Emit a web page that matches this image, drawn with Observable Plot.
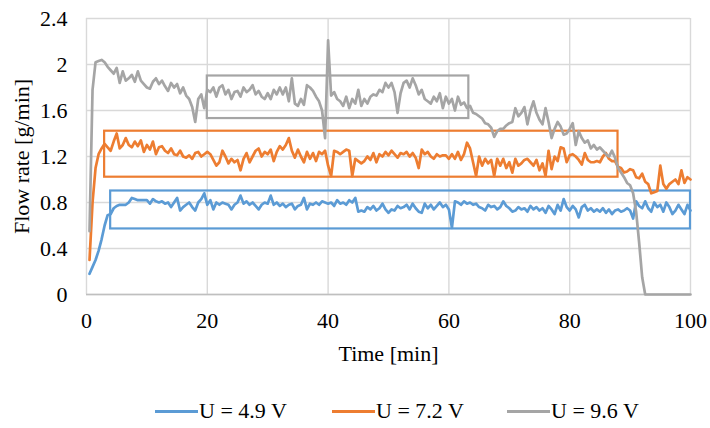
<!DOCTYPE html>
<html>
<head>
<meta charset="utf-8">
<script src="https://cdn.jsdelivr.net/npm/d3@7"></script>
<script src="https://cdn.jsdelivr.net/npm/@observablehq/plot@0.6"></script>
<style>
  html, body { margin: 0; padding: 0; background: #fff; }
  #chart { position: relative; width: 710px; height: 428px; }
  #chart svg text { font-family: "Liberation Serif", "Times New Roman", serif; }
  .item { position: absolute; top: 399px; height: 24px; display: flex; align-items: center;
          font-family: "Liberation Serif", "Times New Roman", serif; font-size: 22px; color: #000; white-space: nowrap; }
  .swatch { width: 43px; height: 3px; margin-right: 1px; }
</style>
</head>
<body>
<div id="chart"></div>
<script>
// ---- Data (sampled every 0.5 min, from 0.5 to 100 min) ----
const timeStep = 0.5;

const seriesNames = ["U = 4.9 V", "U = 7.2 V", "U = 9.6 V"];
const seriesColors = ["#5b9bd5", "#ed7d31", "#a5a5a5"];

const flowU49 = [
  0.18,0.24,0.30,0.38,0.48,0.60,0.69,0.70,0.75,0.77,
  0.78,0.78,0.78,0.80,0.84,0.83,0.82,0.82,0.82,0.82,
  0.79,0.83,0.81,0.80,0.81,0.79,0.80,0.76,0.80,0.84,
  0.73,0.76,0.78,0.80,0.76,0.73,0.80,0.83,0.88,0.78,
  0.82,0.74,0.80,0.78,0.80,0.79,0.78,0.74,0.78,0.80,
  0.86,0.79,0.81,0.78,0.80,0.77,0.74,0.78,0.80,0.79,
  0.86,0.78,0.80,0.77,0.79,0.76,0.78,0.79,0.74,0.77,
  0.78,0.84,0.74,0.79,0.78,0.80,0.78,0.81,0.80,0.79,
  0.80,0.77,0.82,0.79,0.80,0.78,0.82,0.80,0.84,0.72,
  0.73,0.72,0.76,0.74,0.77,0.73,0.75,0.79,0.74,0.71,
  0.74,0.73,0.77,0.75,0.76,0.78,0.74,0.79,0.75,0.72,
  0.71,0.79,0.75,0.78,0.74,0.77,0.80,0.76,0.78,0.74,
  0.58,0.81,0.80,0.78,0.81,0.79,0.80,0.78,0.79,0.76,
  0.75,0.73,0.78,0.76,0.77,0.74,0.76,0.81,0.77,0.75,
  0.72,0.73,0.76,0.74,0.75,0.72,0.77,0.74,0.76,0.73,
  0.75,0.71,0.77,0.74,0.70,0.78,0.73,0.83,0.76,0.73,
  0.77,0.74,0.67,0.76,0.78,0.73,0.75,0.72,0.74,0.72,
  0.75,0.71,0.74,0.70,0.73,0.74,0.72,0.73,0.75,0.73,
  0.66,0.81,0.77,0.75,0.81,0.75,0.72,0.80,0.76,0.78,
  0.72,0.80,0.76,0.70,0.73,0.78,0.74,0.70,0.78,0.73
];

const flowU72 = [
  0.30,0.80,1.10,1.22,1.27,1.31,1.28,1.25,1.33,1.40,
  1.27,1.30,1.36,1.30,1.28,1.33,1.29,1.34,1.24,1.30,
  1.26,1.33,1.22,1.28,1.29,1.25,1.23,1.27,1.22,1.21,
  1.25,1.20,1.19,1.21,1.18,1.23,1.24,1.20,1.22,1.24,
  1.22,1.17,1.12,1.15,1.25,1.20,1.14,1.18,1.15,1.17,
  1.08,1.18,1.23,1.15,1.20,1.25,1.27,1.20,1.24,1.22,
  1.26,1.16,1.24,1.29,1.26,1.30,1.36,1.25,1.19,1.26,
  1.20,1.15,1.24,1.18,1.23,1.16,1.24,1.22,1.25,1.12,
  1.03,1.25,1.24,1.22,1.24,1.26,1.25,1.03,1.18,1.16,
  1.14,1.16,1.20,1.17,1.23,1.15,1.22,1.20,1.24,1.21,
  1.25,1.22,1.19,1.23,1.22,1.24,1.20,1.23,1.19,1.10,
  1.26,1.22,1.24,1.20,1.18,1.22,1.20,1.21,1.21,1.18,
  1.22,1.18,1.24,1.17,1.22,1.32,1.27,1.15,1.03,1.20,
  1.12,1.18,1.14,1.17,1.03,1.18,1.12,1.18,1.10,1.15,
  1.06,1.18,1.12,1.14,1.17,1.18,1.15,1.12,1.17,1.08,
  1.14,1.03,1.25,1.09,1.20,1.16,1.28,1.27,1.15,1.21,
  1.22,1.20,1.17,1.13,1.23,1.17,1.15,1.15,1.16,1.15,
  1.20,1.23,1.18,1.16,1.16,1.11,1.10,1.06,1.07,1.09,
  1.08,1.02,1.01,1.05,0.98,0.96,0.88,0.89,0.90,1.12,
  0.96,0.92,0.96,0.98,1.00,0.96,1.08,0.97,1.02,1.00
];

const flowU96 = [
  0.55,1.78,2.02,2.03,2.04,2.02,1.98,1.95,1.92,1.97,
  1.84,1.94,1.86,1.88,1.91,1.85,1.94,1.86,1.83,1.80,
  1.79,1.85,1.88,1.83,1.86,1.81,1.77,1.84,1.80,1.83,
  1.75,1.80,1.73,1.70,1.63,1.50,1.70,1.74,1.62,1.78,
  1.76,1.80,1.72,1.80,1.82,1.74,1.78,1.70,1.76,1.77,
  1.72,1.80,1.76,1.78,1.82,1.74,1.77,1.72,1.70,1.75,
  1.70,1.78,1.74,1.80,1.74,1.80,1.68,1.88,1.66,1.64,
  1.70,1.65,1.82,1.80,1.77,1.72,1.68,1.60,1.36,2.21,
  1.73,1.76,1.70,1.68,1.64,1.72,1.62,1.70,1.66,1.78,
  1.64,1.70,1.66,1.72,1.74,1.73,1.78,1.76,1.84,1.80,
  1.84,1.76,1.58,1.75,1.84,1.86,1.80,1.88,1.82,1.74,
  1.78,1.70,1.68,1.66,1.72,1.68,1.75,1.62,1.72,1.66,
  1.70,1.60,1.72,1.65,1.67,1.62,1.64,1.58,1.57,1.55,
  1.53,1.49,1.48,1.45,1.37,1.42,1.44,1.44,1.47,1.49,
  1.50,1.62,1.55,1.58,1.63,1.48,1.60,1.68,1.58,1.52,
  1.48,1.62,1.50,1.36,1.44,1.50,1.46,1.39,1.40,1.44,
  1.49,1.30,1.42,1.36,1.32,1.34,1.27,1.30,1.26,1.28,
  1.25,1.22,1.20,1.25,1.19,1.10,1.06,1.02,0.97,0.95,
  0.88,0.72,0.45,0.15,0,0,0,0,0,0,
  0,0,0,0,0,0,0,0,0,0
];

// Highlight boxes (data coordinates)
const boxSeries = [0, 1, 2];
const boxX1 = [4, 3, 20];
const boxX2 = [100, 88, 63.3];
const boxY1 = [0.57, 1.02, 1.53];
const boxY2 = [0.90, 1.42, 1.90];

const xTicks = [0, 20, 40, 60, 80, 100];
const yTicks = [0, 0.4, 0.8, 1.2, 1.6, 2, 2.4];
const xTitle = "Time [min]";
const yTitle = "Flow rate [g/min]";

// ---- Build tables ----
const allSeries = [flowU49, flowU72, flowU96];
const rows = [];
allSeries.forEach((vals, s) => {
  vals.forEach((v, i) => rows.push({series: seriesNames[s], t: (i + 1) * timeStep, v}));
});
const boxes = boxSeries.map((s, i) => ({series: seriesNames[s], x1: boxX1[i], x2: boxX2[i], y1: boxY1[i], y2: boxY2[i]}));

const color = {domain: seriesNames, range: seriesColors};

const chart = Plot.plot({
  width: 710,
  height: 385,
  marginLeft: 86,
  marginRight: 20,
  marginTop: 18,
  marginBottom: 91,
  style: {fontFamily: "'Liberation Serif', serif", fontSize: "22px"},
  x: {domain: [0, 100]},
  y: {domain: [0, 2.4]},
  color,
  marks: [
    Plot.gridX(xTicks, {stroke: "#d9d9d9", strokeOpacity: 1, strokeWidth: 1.4}),
    Plot.gridY(yTicks, {stroke: "#d9d9d9", strokeOpacity: 1, strokeWidth: 1.4}),
    Plot.ruleY([0], {stroke: "#bfbfbf", strokeWidth: 1.6}),
    Plot.axisX({ticks: xTicks, tickSize: 0, tickPadding: 18, label: null, fontSize: 22, tickFormat: d => String(d)}),
    Plot.axisY({ticks: yTicks, tickSize: 0, tickPadding: 19, label: null, fontSize: 22, tickFormat: d => String(d)}),
    Plot.rect(boxes, {x1: "x1", x2: "x2", y1: "y1", y2: "y2", stroke: "series", fill: "none", strokeWidth: 2.2}),
    Plot.line(rows, {x: "t", y: "v", z: "series", stroke: "series", strokeWidth: 2.7, strokeLinejoin: "round", strokeLinecap: "round"}),
    Plot.text([xTitle], {text: d => d, frameAnchor: "bottom", dy: 59, lineAnchor: "middle", textAnchor: "middle", fontSize: 22}),
    Plot.text([yTitle], {text: d => d, frameAnchor: "left", dx: -65, rotate: -90, lineAnchor: "middle", textAnchor: "middle", fontSize: 22})
  ]
});
document.getElementById("chart").appendChild(chart);

// Legend
const legendLeft = [155, 332, 507];
seriesNames.forEach((name, i) => {
  const item = document.createElement("div");
  item.className = "item";
  item.style.left = legendLeft[i] + "px";
  const sw = document.createElement("span");
  sw.className = "swatch";
  sw.style.background = seriesColors[i];
  const label = document.createElement("span");
  label.textContent = name;
  item.appendChild(sw);
  item.appendChild(label);
  document.getElementById("chart").appendChild(item);
});
</script>
</body>
</html>
